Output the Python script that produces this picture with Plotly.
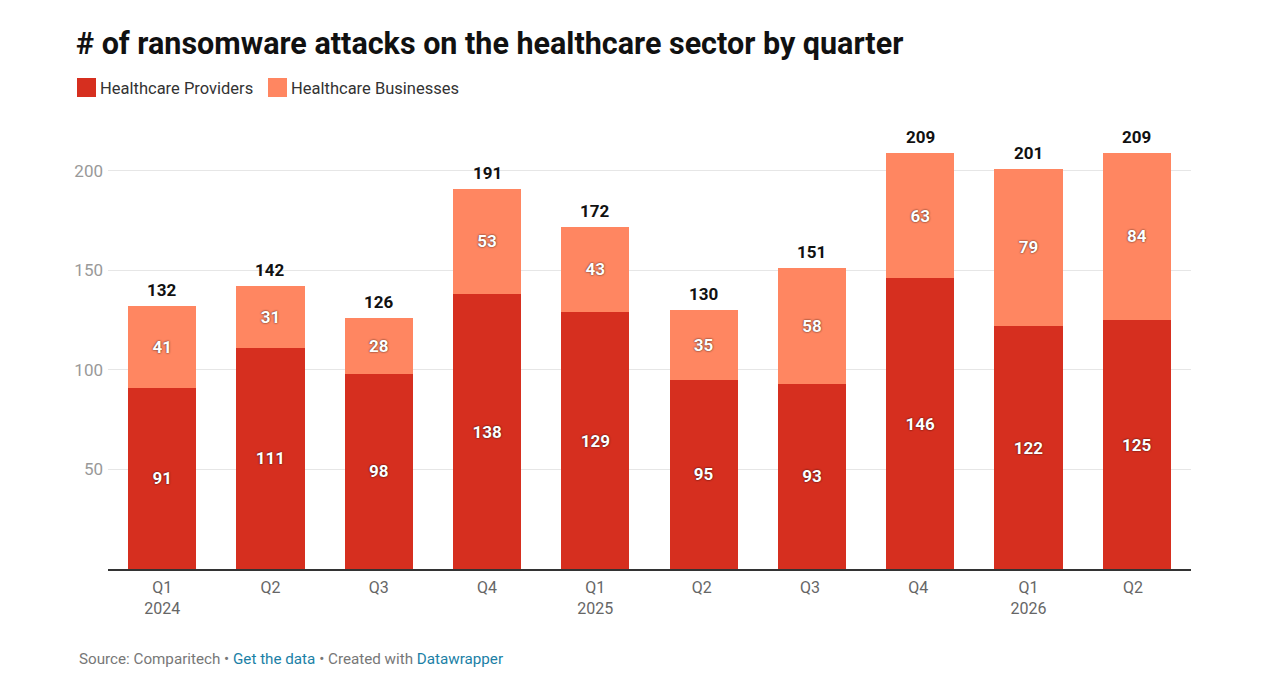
import plotly.graph_objects as go

quarters = ["Q1<br>2024", "Q2", "Q3", "Q4", "Q1<br>2025", "Q2 ", "Q3 ", "Q4 ", "Q1<br>2026", "Q2  "]
providers = [91, 111, 98, 138, 129, 95, 93, 146, 122, 125]
businesses = [41, 31, 28, 53, 43, 35, 58, 63, 79, 84]
totals = [p + b for p, b in zip(providers, businesses)]
series_names = ["Healthcare Providers", "Healthcare Businesses"]

RED = "#d62f1f"
SALMON = "#ff8661"
FONT = "Roboto"
W, H = 1280, 692
SHADOW = "0px 0px 2px rgba(0,0,0,0.85)"

fig = go.Figure()
for name, vals, col in zip(series_names, [providers, businesses], [RED, SALMON]):
    fig.add_trace(go.Bar(
        x=quarters, y=vals, name=name,
        marker=dict(color=col, line=dict(width=0)),
        texttemplate="<b>%{y}</b>", textposition="inside", insidetextanchor="middle",
        textfont=dict(color="white", size=17, family=FONT, shadow=SHADOW),
        textangle=0, hoverinfo="skip", showlegend=False,
    ))

for q, t in zip(quarters, totals):
    fig.add_annotation(x=q, y=t, text=f"<b>{t}</b>", showarrow=False,
                       yanchor="bottom", yshift=4,
                       font=dict(size=17, color="#111", family=FONT))

# manual legend (square swatches)
legend_x = [77, 268]
for name, col, lx in zip(series_names, [RED, SALMON], legend_x):
    fig.add_shape(type="rect", xref="paper", yref="paper",
                  x0=(lx - 108) / 1083, x1=(lx + 19 - 108) / 1083,
                  y0=(H - 123 - 97) / 448, y1=(H - 123 - 78) / 448,
                  fillcolor=col, line=dict(width=0), layer="above")
    fig.add_annotation(xref="paper", yref="paper",
                       x=(lx + 21 - 108) / 1083, y=(H - 123 - 88.5) / 448,
                       xanchor="left", yanchor="middle", showarrow=False,
                       text=name, font=dict(size=16.5, color="#333", family=FONT))

fig.add_annotation(
    xref="paper", yref="paper", x=(77 - 108) / 1083, y=(H - 123 - 659) / 448,
    xanchor="left", yanchor="middle", showarrow=False, align="left",
    text=("<span style='color:#777'>Source: Comparitech • </span>"
          "<span style='color:#1b7fa6'>Get the data</span>"
          "<span style='color:#777'> • Created with </span>"
          "<span style='color:#1b7fa6'>Datawrapper</span>"),
    font=dict(size=15.2, family=FONT, color="#777"),
)

fig.update_layout(
    width=W, height=H,
    margin=dict(l=108, r=89, t=121, b=123),
    paper_bgcolor="white", plot_bgcolor="white",
    barmode="stack", bargap=0.37,
    font=dict(family=FONT, color="#555"),
    title=dict(text="<b># of ransomware attacks on the healthcare sector by quarter</b>",
               xref="container", yref="container", x=76 / W, xanchor="left",
               y=1 - 43 / H, yanchor="middle",
               font=dict(size=30.5, color="#111", family=FONT)),
    showlegend=False,
    yaxis=dict(range=[0, 225], tickvals=[50, 100, 150, 200], showgrid=True,
               gridcolor="#e6e6e6", gridwidth=1, zeroline=False,
               tickfont=dict(size=17, color="#999", family=FONT),
               ticks="", ticklabelstandoff=4, fixedrange=True),
    xaxis=dict(showline=True, linecolor="#333", linewidth=1.5,
               tickfont=dict(size=16, color="#666", family=FONT),
               ticks="", ticklabelstandoff=3, fixedrange=True),
)

fig.write_html("out.html")
